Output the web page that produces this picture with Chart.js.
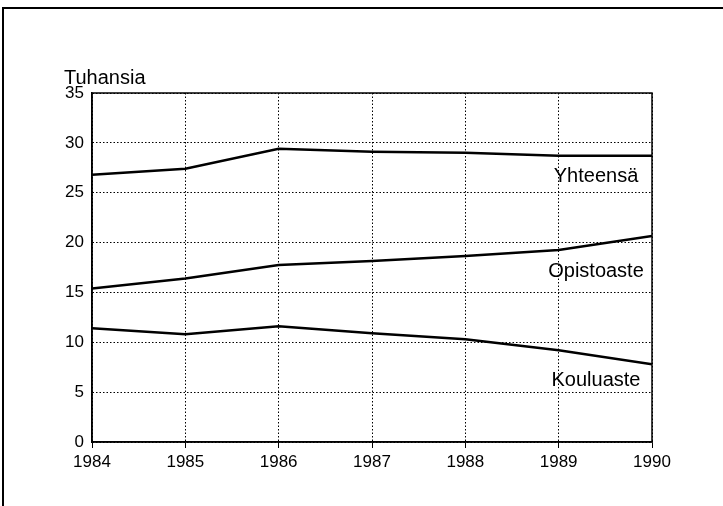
<!DOCTYPE html>
<html>
<head>
<meta charset="utf-8">
<script src="https://cdn.jsdelivr.net/npm/chart.js@4"></script>
<style>
  html, body { margin: 0; padding: 0; background: #fff; }
  #wrap { width: 723px; height: 506px; }
</style>
</head>
<body>
<div id="wrap"><canvas id="chart" width="723" height="506"></canvas></div>
<script>
const years = [1984, 1985, 1986, 1987, 1988, 1989, 1990];
const yhteensa = [26.8, 27.4, 29.4, 29.1, 29.0, 28.7, 28.7];
const opistoaste = [15.4, 16.4, 17.75, 18.15, 18.65, 19.25, 20.65];
const kouluaste = [11.4, 10.8, 11.6, 10.9, 10.3, 9.2, 7.8];
const seriesNames = ['Yhteensä', 'Opistoaste', 'Kouluaste'];
const labelAt = [26.6, 17.1, 6.2]; // where the series name sits (y value)
const unitLabel = 'Tuhansia';

const font = "'Liberation Sans', Arial, Helvetica, sans-serif";

function toPoints(vals) {
    return years.map((y, i) => ({ x: y, y: vals[i] }));
}

// frame, plot box, unit text and series names
const decor = {
    id: 'decor',
    afterDraw(chart) {
        const { ctx, chartArea: a, scales } = chart;
        ctx.save();
        ctx.strokeStyle = '#000';
        ctx.lineWidth = 2;
        ctx.beginPath();
        ctx.moveTo(3, 506);
        ctx.lineTo(3, 8);
        ctx.lineTo(723, 8);
        ctx.stroke();

        ctx.lineWidth = 1.5;
        ctx.strokeRect(a.left, a.top, a.right - a.left, a.bottom - a.top);

        ctx.fillStyle = '#000';
        ctx.font = '20px ' + font;
        ctx.textAlign = 'left';
        ctx.textBaseline = 'alphabetic';
        ctx.fillText(unitLabel, 64, 84);

        ctx.textAlign = 'center';
        ctx.textBaseline = 'middle';
        const xs = scales.x.getPixelForValue(1989.4);
        seriesNames.forEach((name, i) => {
            ctx.fillText(name, xs, scales.y.getPixelForValue(labelAt[i]));
        });
        ctx.restore();
    }
};

const ctx = document.getElementById('chart').getContext('2d');
const chart = new Chart(ctx, {
    type: 'line',
    data: {
        datasets: [
            { label: seriesNames[0], data: toPoints(yhteensa) },
            { label: seriesNames[1], data: toPoints(opistoaste) },
            { label: seriesNames[2], data: toPoints(kouluaste) }
        ].map(d => Object.assign(d, {
            borderColor: '#000',
            borderWidth: 2.5,
            pointRadius: 0,
            tension: 0,
            fill: false
        }))
    },
    options: {
        responsive: false,
        animation: false,
        layout: { padding: { left: 0, right: 71, top: 93, bottom: 0 } },
        plugins: {
            legend: { display: false },
            tooltip: { enabled: false }
        },
        scales: {
            x: {
                type: 'linear',
                min: 1984,
                max: 1990,
                afterFit(s) { s.height = 64; },
                ticks: {
                    stepSize: 1,
                    color: '#000',
                    padding: 4,
                    font: { family: font, size: 17 },
                    callback: v => String(v)
                },
                grid: {
                    color: '#000',
                    lineWidth: 1,
                    tickColor: '#000',
                    tickLength: 6,
                    tickBorderDash: [],
                },
                border: { display: true, color: '#000', width: 1.5, dash: [1.5, 2] }
            },
            y: {
                min: 0,
                max: 35,
                afterFit(s) { s.width = 92; },
                ticks: {
                    stepSize: 5,
                    color: '#000',
                    padding: 8,
                    font: { family: font, size: 17 }
                },
                grid: {
                    color: '#000',
                    lineWidth: 1,
                    drawTicks: false
                },
                border: { display: true, color: '#000', width: 1.5, dash: [1.5, 2] }
            }
        }
    },
    plugins: [decor]
});
</script>
</body>
</html>
